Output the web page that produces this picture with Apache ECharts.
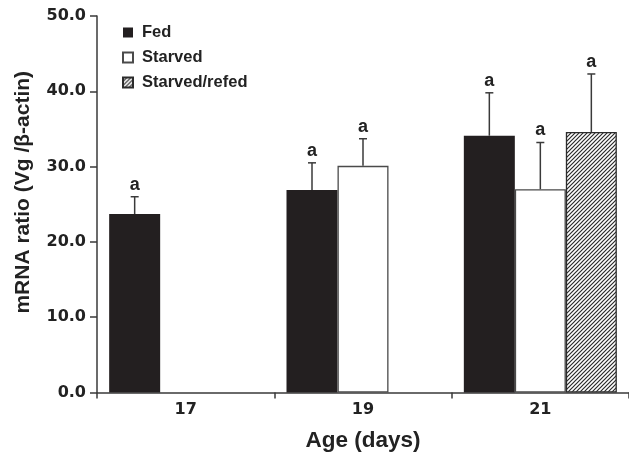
<!DOCTYPE html>
<html>
<head>
<meta charset="utf-8">
<script src="https://cdn.jsdelivr.net/npm/echarts@6/dist/echarts.min.js"></script>
<style>
html,body{margin:0;padding:0;background:#fff;}
#chart{width:629px;height:453px;}
</style>
</head>
<body>
<div id="chart"></div>
<script>
// ---- data ----
var categories = ['17', '19', '21'];
var seriesNames = ['Fed', 'Starved', 'Starved/refed'];
var fedValues = [23.7, 26.9, 34.1];
var starvedValues = [null, 30.1, 27.0];
var refedValues = [null, null, 34.6];
var fedErrors = [2.3, 3.6, 5.7];
var starvedErrors = [null, 3.6, 6.2];
var refedErrors = [null, null, 7.7];
var fedLetters = ['a', 'a', 'a'];
var starvedLetters = [null, 'a', 'a'];
var refedLetters = [null, null, 'a'];
var yTicks = [0, 10, 20, 30, 40, 50];

// ---- styling ----
var BAR_W = 51;
var AXIS_COLOR = '#3a3a3a';
var FONT = 'Liberation Sans, Arial, Helvetica, sans-serif';
var TICK_FONT = 'DejaVu Sans, sans-serif';

function makeHatch() {
  var c = document.createElement('canvas');
  var s = 4;
  c.width = s; c.height = s;
  var ctx = c.getContext('2d');
  ctx.fillStyle = '#ffffff';
  ctx.fillRect(0, 0, s, s);
  ctx.strokeStyle = '#2b2b2b';
  ctx.lineWidth = 1.2;
  ctx.beginPath();
  ctx.moveTo(-1, s + 1); ctx.lineTo(s + 1, -1);
  ctx.moveTo(-1, 1); ctx.lineTo(1, -1);
  ctx.moveTo(s - 1, s + 1); ctx.lineTo(s + 1, s - 1);
  ctx.stroke();
  return c;
}
var hatch = makeHatch();

function errData(values, errors, letters) {
  var out = [];
  for (var i = 0; i < categories.length; i++) {
    if (values[i] != null) out.push([i, values[i], errors[i], letters[i]]);
  }
  return out;
}

function errSeries(values, errors, letters, slot) {
  return {
    type: 'custom',
    silent: true,
    z: 5,
    data: errData(values, errors, letters),
    renderItem: function (params, api) {
      var cat = api.value(0), v = api.value(1), e = api.value(2);
      var letter = letters[cat];
      var base = api.coord([cat, v]);
      var top = api.coord([cat, v + e]);
      var x = base[0] + slot * BAR_W;
      var children = [
        { type: 'line', shape: { x1: x, y1: base[1], x2: x, y2: top[1] },
          style: { stroke: AXIS_COLOR, lineWidth: 1.5 } },
        { type: 'line', shape: { x1: x - 4, y1: top[1], x2: x + 4, y2: top[1] },
          style: { stroke: AXIS_COLOR, lineWidth: 1.5 } }
      ];
      if (letter) {
        children.push({ type: 'text', style: {
          text: letter, x: x, y: top[1] - 3, align: 'center', verticalAlign: 'bottom',
          font: 'bold 18px ' + FONT, fill: '#222'
        }});
      }
      return { type: 'group', children: children };
    }
  };
}

var chart = echarts.init(document.getElementById('chart'), null, { renderer: 'canvas' });
chart.setOption({
  animation: false,
  backgroundColor: '#fff',
  grid: { left: 97, right: 0, top: 16, bottom: 60.5, containLabel: false, outerBoundsMode: 'none' },
  legend: {
    orient: 'vertical',
    left: 117,
    top: 19,
    icon: 'rect',
    itemWidth: 10,
    itemHeight: 10,
    itemGap: 8,
    data: seriesNames,
    textStyle: { fontFamily: FONT, fontWeight: 'bold', fontSize: 16.5, color: '#222', padding: [0, 0, 0, 4] }
  },
  xAxis: {
    type: 'category',
    data: categories,
    name: 'Age (days)',
    nameLocation: 'middle',
    nameGap: 37,
    nameTextStyle: { fontFamily: FONT, fontWeight: 'bold', fontSize: 22.5, color: '#222' },
    axisLine: { lineStyle: { color: AXIS_COLOR, width: 1.5 } },
    axisTick: { show: true, length: 6, lineStyle: { color: AXIS_COLOR, width: 1.5 } },
    axisLabel: { margin: 9, fontFamily: TICK_FONT, fontWeight: 'bold', fontSize: 16, color: '#222' }
  },
  yAxis: {
    type: 'value',
    min: 0, max: 50, interval: 10,
    name: 'mRNA ratio (Vg /β-actin)',
    nameLocation: 'middle',
    nameGap: 63,
    nameTextStyle: { fontFamily: FONT, fontWeight: 'bold', fontSize: 21, color: '#222', padding: [0, 0, 0, 24] },
    axisLine: { show: true, lineStyle: { color: AXIS_COLOR, width: 1.5 } },
    axisTick: { show: true, length: 7, lineStyle: { color: AXIS_COLOR, width: 1.5 } },
    splitLine: { show: false },
    axisLabel: {
      margin: 11, fontFamily: TICK_FONT, fontWeight: 'bold', fontSize: 16, color: '#222',
      formatter: function (v) { return yTicks.indexOf(v) >= 0 ? v.toFixed(1) : ''; }
    }
  },
  series: [
    { name: 'Fed', type: 'bar', barWidth: BAR_W, barGap: '0%', data: fedValues,
      itemStyle: { color: '#231f20', borderColor: '#231f20', borderWidth: 0 } },
    { name: 'Starved', type: 'bar', barWidth: BAR_W, barGap: '0%', data: starvedValues,
      itemStyle: { color: '#ffffff', borderColor: '#4a4a4a', borderWidth: 1.3 } },
    { name: 'Starved/refed', type: 'bar', barWidth: BAR_W, barGap: '0%', data: refedValues,
      itemStyle: { color: { image: hatch, repeat: 'repeat' }, borderColor: '#2b2b2b', borderWidth: 1.3 } },
    errSeries(fedValues, fedErrors, fedLetters, -1),
    errSeries(starvedValues, starvedErrors, starvedLetters, 0),
    errSeries(refedValues, refedErrors, refedLetters, 1)
  ]
});
</script>
</body>
</html>
